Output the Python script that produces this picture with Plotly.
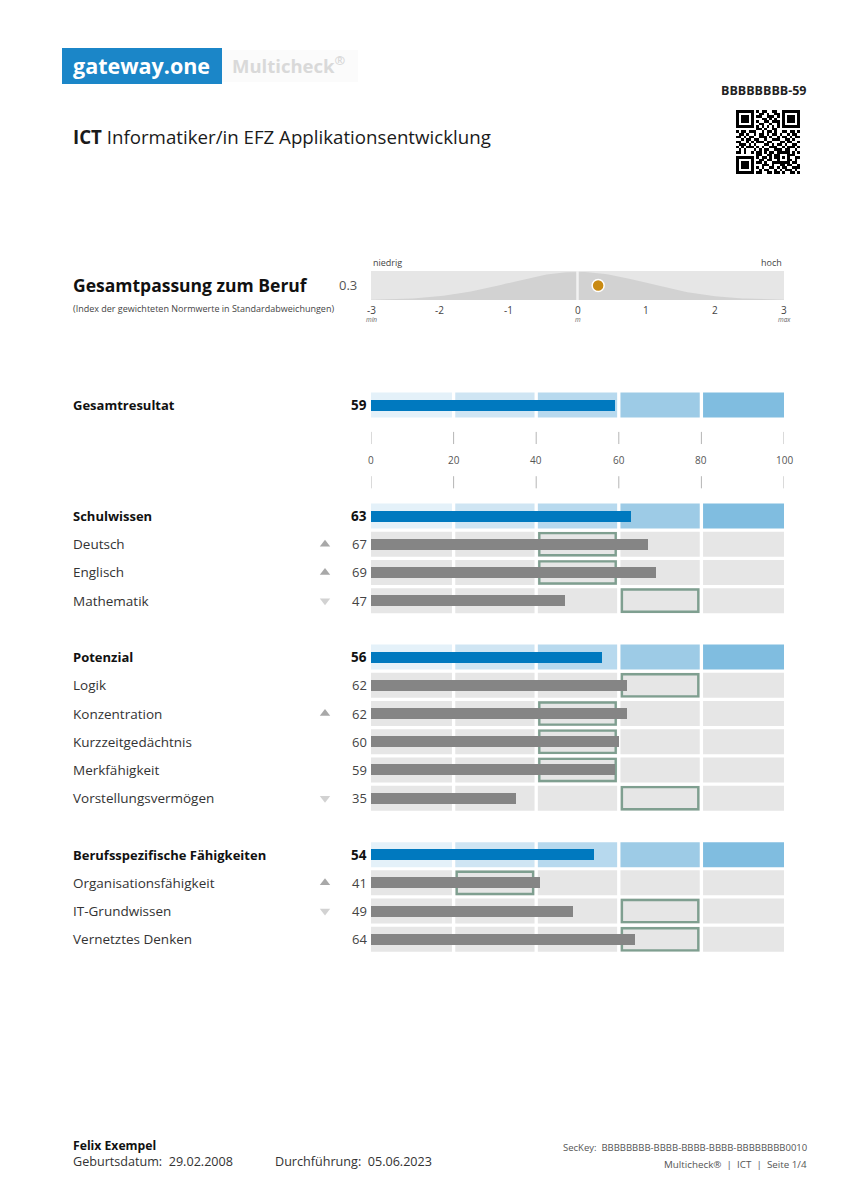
import numpy as np
import plotly.graph_objects as go

FONT = "Open Sans"

# ---------------- data ----------------
TOTAL_LABEL = "Gesamtresultat"
TOTAL_SCORE = 59

GROUP_LABELS = ["Schulwissen", "Potenzial", "Berufsspezifische Fähigkeiten"]
GROUP_SCORES = [63, 56, 54]

SCHUL_ITEMS = ["Deutsch", "Englisch", "Mathematik"]
SCHUL_SCORES = [67, 69, 47]
SCHUL_RANGE_LO = [40, 40, 60]
SCHUL_TREND = ["up", "up", "down"]

POT_ITEMS = ["Logik", "Konzentration", "Kurzzeitgedächtnis", "Merkfähigkeit", "Vorstellungsvermögen"]
POT_SCORES = [62, 62, 60, 59, 35]
POT_RANGE_LO = [60, 40, 40, 40, 60]
POT_TREND = ["", "up", "", "", "down"]

BERUF_ITEMS = ["Organisationsfähigkeit", "IT-Grundwissen", "Vernetztes Denken"]
BERUF_SCORES = [41, 49, 64]
BERUF_RANGE_LO = [20, 60, 60]
BERUF_TREND = ["up", "down", ""]

RANGE_WIDTH = 20
SEGMENTS = [0, 20, 40, 60, 80, 100]
SCALE_TICKS = [0, 20, 40, 60, 80, 100]

FIT_VALUE = 0.3
FIT_TICKS = [-3, -2, -1, 0, 1, 2, 3]
FIT_SUBLABELS = {-3: "min", 0: "m", 3: "max"}

QR = [
    "1111111" + "0" + "101100110" + "0" + "1111111",
    "1000001" + "0" + "011010011" + "0" + "1000001",
    "1011101" + "0" + "110011101" + "0" + "1011101",
    "1011101" + "0" + "001101010" + "0" + "1011101",
    "1011101" + "0" + "100110111" + "0" + "1011101",
    "1000001" + "0" + "011001001" + "0" + "1000001",
    "1111111" + "0" + "101010101" + "0" + "1111111",
    "0000000" + "0" + "110100110" + "0" + "0000000",
    "1011011100101101001101101",
    "0110100101101011010010110",
    "1101011001110100101101011",
    "0010110110010011100110100",
    "1100101011101100011011001",
    "0111010100011010110100110",
    "1010111010100111001011101",
    "0101000101011001110110010",
    "1101001011010110" + "11111" + "0101",
    "00000000" + "11001101" + "10001" + "1100",
    "1111111" + "0" + "10110101" + "10101" + "0011",
    "1000001" + "0" + "01101100" + "10001" + "1010",
    "1011101" + "0" + "11010011" + "11111" + "0110",
    "1011101" + "0" + "00111010" + "01101" + "1001",
    "1011101" + "0" + "10100110" + "10110" + "0111",
    "1000001" + "0" + "01011001" + "01011" + "1010",
    "1111111" + "0" + "11001101" + "10100" + "1101",
]

# ---------------- styles / layout ----------------
BLUE_BAR = "#0079bf"
GREY_BAR = "#858585"
BLUE_SHADES = ["#e4f1f9", "#cfe5f3", "#b7d9ee", "#9dcbe6", "#80bde0"]
GREY_BAND = "#e6e6e6"
BOX_COLOR = "#7f9f90"

OFF = 8              # page margin of the html body
W, H = 840, 1192     # figure size


def py(px):  # page pixel y -> paper y
    return 1 - (px - OFF) / H


def pxx(px):  # page pixel x -> paper x
    return (px - OFF) / W


X0_PX, X1_PX = 371, 784
ROW0_PX, PITCH = 516, 28.22
YTOP_PX, YBOT_PX = 380, 960
BAND_H = 25 / PITCH
BAR_H = 11 / PITCH

# build rows
rows = []  # (label, score, kind, lo, trend, ypos)
total_y = -3.93
axis_y = -1.98
pos = 0
blocks = [(SCHUL_ITEMS, SCHUL_SCORES, SCHUL_RANGE_LO, SCHUL_TREND),
          (POT_ITEMS, POT_SCORES, POT_RANGE_LO, POT_TREND),
          (BERUF_ITEMS, BERUF_SCORES, BERUF_RANGE_LO, BERUF_TREND)]
for (glab, gscore), (items, scores, los, trends) in zip(zip(GROUP_LABELS, GROUP_SCORES), blocks):
    rows.append((glab, gscore, "group", None, "", pos))
    pos += 1
    for lab, sc, lo, tr in zip(items, scores, los, trends):
        rows.append((lab, sc, "item", lo, tr, pos))
        pos += 1
    pos += 1
rows.insert(0, (TOTAL_LABEL, TOTAL_SCORE, "group", None, "", total_y))

fig = go.Figure()
shapes = []
annotations = []


def ann(x, y, text, size, color="#333333", xanchor="left", yanchor="middle", xref="paper", yref="paper"):
    annotations.append(dict(xref=xref, yref=yref, x=x, y=y, xanchor=xanchor, yanchor=yanchor,
                            text=text, showarrow=False,
                            font=dict(family=FONT, size=size, color=color)))


# bands
gap = 0.4
for lab, sc, kind, lo, tr, y in rows:
    for i in range(5):
        a, b = SEGMENTS[i], SEGMENTS[i + 1]
        shapes.append(dict(type="rect", xref="x", yref="y", layer="below",
                           x0=a + (gap if a > 0 else 0), x1=b - (gap if b < 100 else 0),
                           y0=y - BAND_H / 2, y1=y + BAND_H / 2,
                           fillcolor=BLUE_SHADES[i] if kind == "group" else GREY_BAND,
                           line=dict(width=0)))
# expected range boxes
for lab, sc, kind, lo, tr, y in rows:
    if lo is None:
        continue
    shapes.append(dict(type="rect", xref="x", yref="y", layer="below",
                       x0=lo + 0.75, x1=lo + RANGE_WIDTH - 0.75,
                       y0=y - BAND_H / 2 + 0.05, y1=y + BAND_H / 2 - 0.05,
                       fillcolor="rgba(0,0,0,0)", line=dict(color=BOX_COLOR, width=2.4)))

grp = [r for r in rows if r[2] == "group"]
itm = [r for r in rows if r[2] == "item"]
fig.add_trace(go.Bar(orientation="h", x=[r[1] for r in grp], y=[r[5] for r in grp],
                     width=BAR_H, marker=dict(color=BLUE_BAR, line=dict(width=0)),
                     hoverinfo="skip", showlegend=False))
fig.add_trace(go.Bar(orientation="h", x=[r[1] for r in itm], y=[r[5] for r in itm],
                     width=BAR_H, marker=dict(color=GREY_BAR, line=dict(width=0)),
                     hoverinfo="skip", showlegend=False))

# trend arrows (on a small helper x axis at the left of the bars)
ARROW_X = 325
ups = [r for r in itm if r[4] == "up"]
downs = [r for r in itm if r[4] == "down"]
fig.add_trace(go.Scatter(x=[ARROW_X] * len(ups), y=[r[5] for r in ups], xaxis="x4", yaxis="y",
                         mode="markers", marker=dict(symbol="triangle-up", size=9, color="#a8a8a8"),
                         hoverinfo="skip", showlegend=False))
fig.add_trace(go.Scatter(x=[ARROW_X] * len(downs), y=[r[5] for r in downs], xaxis="x4", yaxis="y",
                         mode="markers", marker=dict(symbol="triangle-down", size=9, color="#d2d2d2"),
                         hoverinfo="skip", showlegend=False))

# scale ticks
tx, ty = [], []
for t in SCALE_TICKS:
    tx += [t, t, None, t, t, None]
    ty += [axis_y - 1.0, axis_y - 0.57, None, axis_y + 0.57, axis_y + 1.0, None]
fig.add_trace(go.Scatter(x=tx, y=ty, mode="lines", line=dict(color="#b5b5b5", width=1),
                         cliponaxis=False, hoverinfo="skip", showlegend=False))
for t in SCALE_TICKS:
    ann(t, axis_y, str(t), 10, "#555555", xanchor="center", xref="x", yref="y")

# row labels and values
for lab, sc, kind, lo, tr, y in rows:
    bold = kind == "group"
    ann(pxx(71), y, f"<b>{lab}</b>" if bold else lab, 13 if bold else 13.5,
        "#111111" if bold else "#333333", yref="y")
    ann(pxx(369), y, f"<b>{sc}</b>" if bold else str(sc), 13.5 if bold else 13,
        "#111111" if bold else "#444444", xanchor="right", yref="y")

# ---------- Gesamtpassung panel ----------
NORM_X = np.linspace(-3, 3, 121)
NORM_Y = np.exp(-NORM_X ** 2 / 2) * 0.97
shapes.append(dict(type="rect", xref="x2 domain", yref="y2 domain", layer="below",
                   x0=0, x1=1, y0=0, y1=1, fillcolor=GREY_BAND, line=dict(width=0)))
fig.add_trace(go.Scatter(x=NORM_X, y=NORM_Y, xaxis="x2", yaxis="y2", mode="lines",
                         fill="tozeroy", fillcolor="#d2d2d2", line=dict(width=0, color="#d2d2d2"),
                         hoverinfo="skip", showlegend=False))
shapes.append(dict(type="line", xref="x2", yref="y2 domain", x0=0, x1=0, y0=0, y1=1,
                   line=dict(color="#f2f2f2", width=2.5), layer="above"))
fig.add_trace(go.Scatter(x=[FIT_VALUE], y=[0.5], xaxis="x2", yaxis="y2", mode="markers",
                         marker=dict(size=12, color="#c98a12", line=dict(color="white", width=1.5)),
                         hoverinfo="skip", showlegend=False))
for t in FIT_TICKS:
    ann(t, py(310), str(t), 10, "#444444", xanchor="center", xref="x2")
for t, s in FIT_SUBLABELS.items():
    ann(t, py(319), f"<i>{s}</i>", 6.5, "#666666", xanchor="center", xref="x2")
ann(-3, py(262), "niedrig", 9, "#444444", xanchor="left", xref="x2")
ann(3, py(262), "hoch", 9, "#444444", xanchor="right", xref="x2")
ann(pxx(71), py(285), "<b>Gesamtpassung zum Beruf</b>", 17.5, "#111111")
ann(pxx(359), py(285), f"{FIT_VALUE}", 13, "#555555", xanchor="right")
ann(pxx(71), py(309), "(Index der gewichteten Normwerte in Standardabweichungen)", 9, "#444444")

# ---------- QR code ----------
qz = [[int(c) for c in row] for row in QR]
fig.add_trace(go.Heatmap(z=qz, xaxis="x3", yaxis="y3", colorscale=[[0, "white"], [1, "black"]],
                         showscale=False, hoverinfo="skip"))

# ---------- header ----------
shapes.append(dict(type="rect", xref="paper", yref="paper", x0=pxx(62), x1=pxx(222),
                   y0=py(84), y1=py(48), fillcolor="#1b86c8", line=dict(width=0), layer="below"))
shapes.append(dict(type="rect", xref="paper", yref="paper", x0=pxx(222), x1=pxx(358),
                   y0=py(82), y1=py(50), fillcolor="#fbfbfb", line=dict(width=0), layer="below"))
ann(pxx(141), py(66), "<b>gateway.one</b>", 21.5, "white", xanchor="center")
ann(pxx(230), py(65), "<b>Multicheck<sup>®</sup></b>", 18.5, "#d9d9d9")
ann(pxx(809), py(90), "<b>BBBBBBBB-59</b>", 12.5, "#222222", xanchor="right")
ann(pxx(71), py(137), "<b>ICT</b> Informatiker/in EFZ Applikationsentwicklung", 18.7, "#1a1a1a")

# ---------- footer ----------
ann(pxx(71), py(1145), "<b>Felix Exempel</b>", 12.2, "#111111")
ann(pxx(71), py(1161), "Geburtsdatum:  29.02.2008", 12.6, "#333333")
ann(pxx(273), py(1161), "Durchführung:  05.06.2023", 12.6, "#333333")
ann(pxx(809), py(1147), "SecKey:  BBBBBBBB-BBBB-BBBB-BBBB-BBBBBBBB0010", 9.5, "#555555", xanchor="right")
ann(pxx(809), py(1164), "Multicheck®  |  ICT  |  Seite 1/4", 9.8, "#555555", xanchor="right")

hidden = dict(visible=False, showgrid=False, zeroline=False, fixedrange=True)
fig.update_layout(
    width=W, height=H, margin=dict(l=0, r=0, t=0, b=0),
    paper_bgcolor="white", plot_bgcolor="white",
    barmode="overlay", bargap=0, showlegend=False,
    font=dict(family=FONT),
    xaxis=dict(domain=[pxx(X0_PX), pxx(X1_PX)], range=[0, 100], anchor="y", **hidden),
    yaxis=dict(domain=[py(YBOT_PX), py(YTOP_PX)],
               range=[(YBOT_PX - ROW0_PX) / PITCH, (YTOP_PX - ROW0_PX) / PITCH], anchor="x", **hidden),
    xaxis2=dict(domain=[pxx(X0_PX), pxx(X1_PX)], range=[-3, 3], anchor="y2", **hidden),
    yaxis2=dict(domain=[py(300), py(271)], range=[0, 1], anchor="x2", **hidden),
    xaxis3=dict(domain=[pxx(736), pxx(800)], range=[-0.5, 24.5], anchor="y3", **hidden),
    yaxis3=dict(domain=[py(174), py(110)], range=[24.5, -0.5], anchor="x3", **hidden),
    xaxis4=dict(domain=[pxx(300), pxx(350)], range=[300, 350], anchor="y", **hidden),
    shapes=shapes, annotations=annotations,
)

fig.write_html("out.html")
